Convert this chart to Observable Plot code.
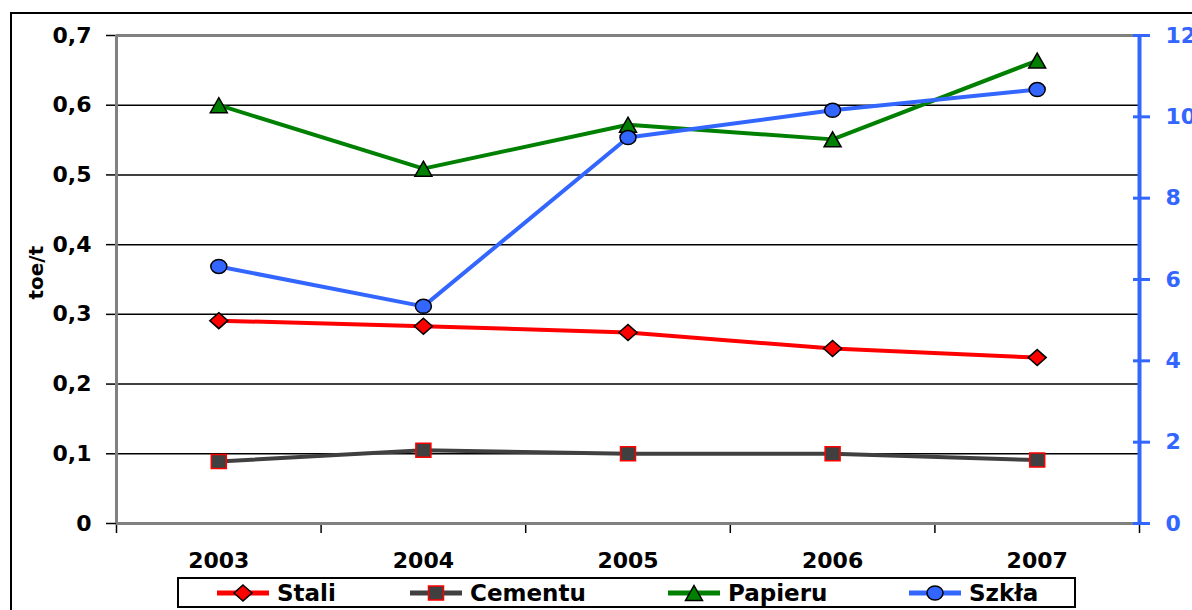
<!DOCTYPE html>
<html>
<head>
<meta charset="utf-8">
<script src="https://cdn.jsdelivr.net/npm/d3@7"></script>
<script src="https://cdn.jsdelivr.net/npm/@observablehq/plot@0.6"></script>
<style>
  html, body { margin: 0; padding: 0; background: #fff; }
  #wrap { position: relative; width: 1192px; height: 610px; overflow: hidden; background: #fff; font-family: "DejaVu Sans", sans-serif; font-weight: bold; }
  #frame { position: absolute; left: 10px; top: 12px; width: 1300px; height: 700px; border: 2px solid #000; box-sizing: border-box; }
  #chart { position: absolute; left: 0; top: 0; }
  #legend { position: absolute; left: 177px; top: 577px; width: 899px; height: 31px; border: 2px solid #000; box-sizing: border-box; background: #fff; }
  .item { position: absolute; top: 0; height: 27px; display: flex; align-items: center; font-size: 23px; color: #000; }
  .item svg { display: block; margin-right: 8px; }
</style>
</head>
<body>
<div id="wrap">
  <div id="frame"></div>
  <div id="chart"></div>
  <div id="legend"></div>
</div>
<script>
// ---- data ----
const years = [2003, 2004, 2005, 2006, 2007];
const stali = [0.291, 0.283, 0.274, 0.251, 0.238];
const cementu = [0.089, 0.105, 0.100, 0.100, 0.091];
const papieru = [0.600, 0.509, 0.572, 0.551, 0.664];
const szkla = [6.32, 5.34, 9.49, 10.16, 10.67];
const leftTicks = [0, 0.1, 0.2, 0.3, 0.4, 0.5, 0.6, 0.7];
const rightTicks = [0, 2, 4, 6, 8, 10, 12];
const seriesNames = ["Stali", "Cementu", "Papieru", "Szkła"];

// ---- styles ----
const RED = "#FF0000", GRAY = "#404040", GREEN = "#008000", BLUE = "#3366FF";
const k = leftTicks[leftTicks.length - 1] / rightTicks[rightTicks.length - 1];

// custom marker shapes (slightly wider than tall, as in the reference)
function diamond(hw, hh) { return { draw(c) { c.moveTo(0, -hh); c.lineTo(hw, 0); c.lineTo(0, hh); c.lineTo(-hw, 0); c.closePath(); } }; }
function rect(hw, hh) { return { draw(c) { c.moveTo(-hw, -hh); c.lineTo(hw, -hh); c.lineTo(hw, hh); c.lineTo(-hw, hh); c.closePath(); } }; }
function tri(hw, h) { return { draw(c) { c.moveTo(0, -h / 2); c.lineTo(hw, h / 2); c.lineTo(-hw, h / 2); c.closePath(); } }; }
function ellipse(rx, ry) {
  const K = 0.5523;
  return { draw(c) {
    c.moveTo(rx, 0);
    c.bezierCurveTo(rx, ry * K, rx * K, ry, 0, ry);
    c.bezierCurveTo(-rx * K, ry, -rx, ry * K, -rx, 0);
    c.bezierCurveTo(-rx, -ry * K, -rx * K, -ry, 0, -ry);
    c.bezierCurveTo(rx * K, -ry, rx, -ry * K, rx, 0);
    c.closePath();
  } };
}
const symStali = diamond(9, 8);
const symCem = rect(7.5, 7);
const symPap = tri(8.5, 15);
const symSzk = ellipse(8, 7);

const series = [
  { name: seriesNames[0], values: stali, line: RED, sym: symStali, fill: RED, stroke: "#000", sw: 1.5 },
  { name: seriesNames[1], values: cementu, line: GRAY, sym: symCem, fill: GRAY, stroke: RED, sw: 1.5 },
  { name: seriesNames[2], values: papieru, line: GREEN, sym: symPap, fill: GREEN, stroke: "#000", sw: 1.5 },
  { name: seriesNames[3], values: szkla.map(v => v * k), line: BLUE, sym: symSzk, fill: BLUE, stroke: "#000", sw: 1.5 }
];

const x0 = years[0] - 0.5, x1 = years[years.length - 1] + 0.5;
const boundaries = years.map(y => y - 0.5).concat([x1]);
const fmtLeft = d => d === 0 ? "0" : d.toFixed(1).replace(".", ",");

const marks = [
  Plot.ruleY(leftTicks.filter(t => t > 0 && t < 0.7), { stroke: "#000", strokeWidth: 1.5 }),
  Plot.ruleY([leftTicks[leftTicks.length - 1]], { stroke: "#808080", strokeWidth: 3 }),
  Plot.axisY(leftTicks, { anchor: "left", tickSize: 10, tickPadding: 15, tickFormat: fmtLeft, fontSize: 22, stroke: "#000", strokeWidth: 1.5 }),
  Plot.axisX(boundaries, { anchor: "bottom", tickSize: 10, tickFormat: () => "", stroke: "#000", strokeWidth: 1.5 }),
  Plot.axisX(years, { anchor: "bottom", tickSize: 0, tickPadding: 29, tickFormat: d => String(d), fontSize: 22 }),
  Plot.ruleY([0], { stroke: "#808080", strokeWidth: 3 }),
  Plot.ruleX([x0], { stroke: "#808080", strokeWidth: 3 }),
  Plot.ruleX([x1], { stroke: BLUE, strokeWidth: 4 }),
  Plot.axisY(rightTicks.map(v => v * k), { anchor: "right", tickSize: 17, dx: -7, tickFormat: () => "", stroke: BLUE, strokeWidth: 3 }),
  Plot.axisY(rightTicks.map(v => v * k), { anchor: "right", tickSize: 0, tickPadding: 26, tickFormat: v => String(Math.round(v / k)), fill: BLUE, fontSize: 22 }),
  Plot.text(["toe/t"], { frameAnchor: "left", dx: -80, dy: 20, rotate: -90, fontSize: 20, fontWeight: "bold", fill: "#000" })
];
for (const s of series) {
  marks.push(Plot.line(years, { x: years, y: s.values, stroke: s.line, strokeWidth: 4 }));
  marks.push(Plot.dot(years, { x: years, y: s.values, symbol: s.sym, r: 8, fill: s.fill, stroke: s.stroke, strokeWidth: s.sw }));
}

const chart = Plot.plot({
  width: 1192,
  height: 575,
  marginLeft: 116,
  marginRight: 53,
  marginTop: 35,
  marginBottom: 52,
  x: { domain: [x0, x1], axis: null },
  y: { domain: [0, 0.7], axis: null },
  style: { fontFamily: "DejaVu Sans", fontWeight: "bold", background: "transparent", overflow: "visible", color: "#000" },
  marks
});
document.getElementById("chart").appendChild(chart);

// ---- legend ----
const legendLeft = [217, 410, 668, 909];
const legend = document.getElementById("legend");
series.forEach((s, i) => {
  const p = d3.path();
  s.sym.draw(p);
  const item = document.createElement("div");
  item.className = "item";
  item.style.left = (legendLeft[i] - 177 - 2) + "px";
  item.innerHTML =
    `<svg width="52" height="22" viewBox="-26 -11 52 22">
       <line x1="-26" x2="26" y1="0" y2="0" stroke="${s.line}" stroke-width="5"/>
       <path d="${p.toString()}" fill="${s.fill}" stroke="${s.stroke}" stroke-width="${s.sw}"/>
     </svg><span>${s.name}</span>`;
  legend.appendChild(item);
});
</script>
</body>
</html>
